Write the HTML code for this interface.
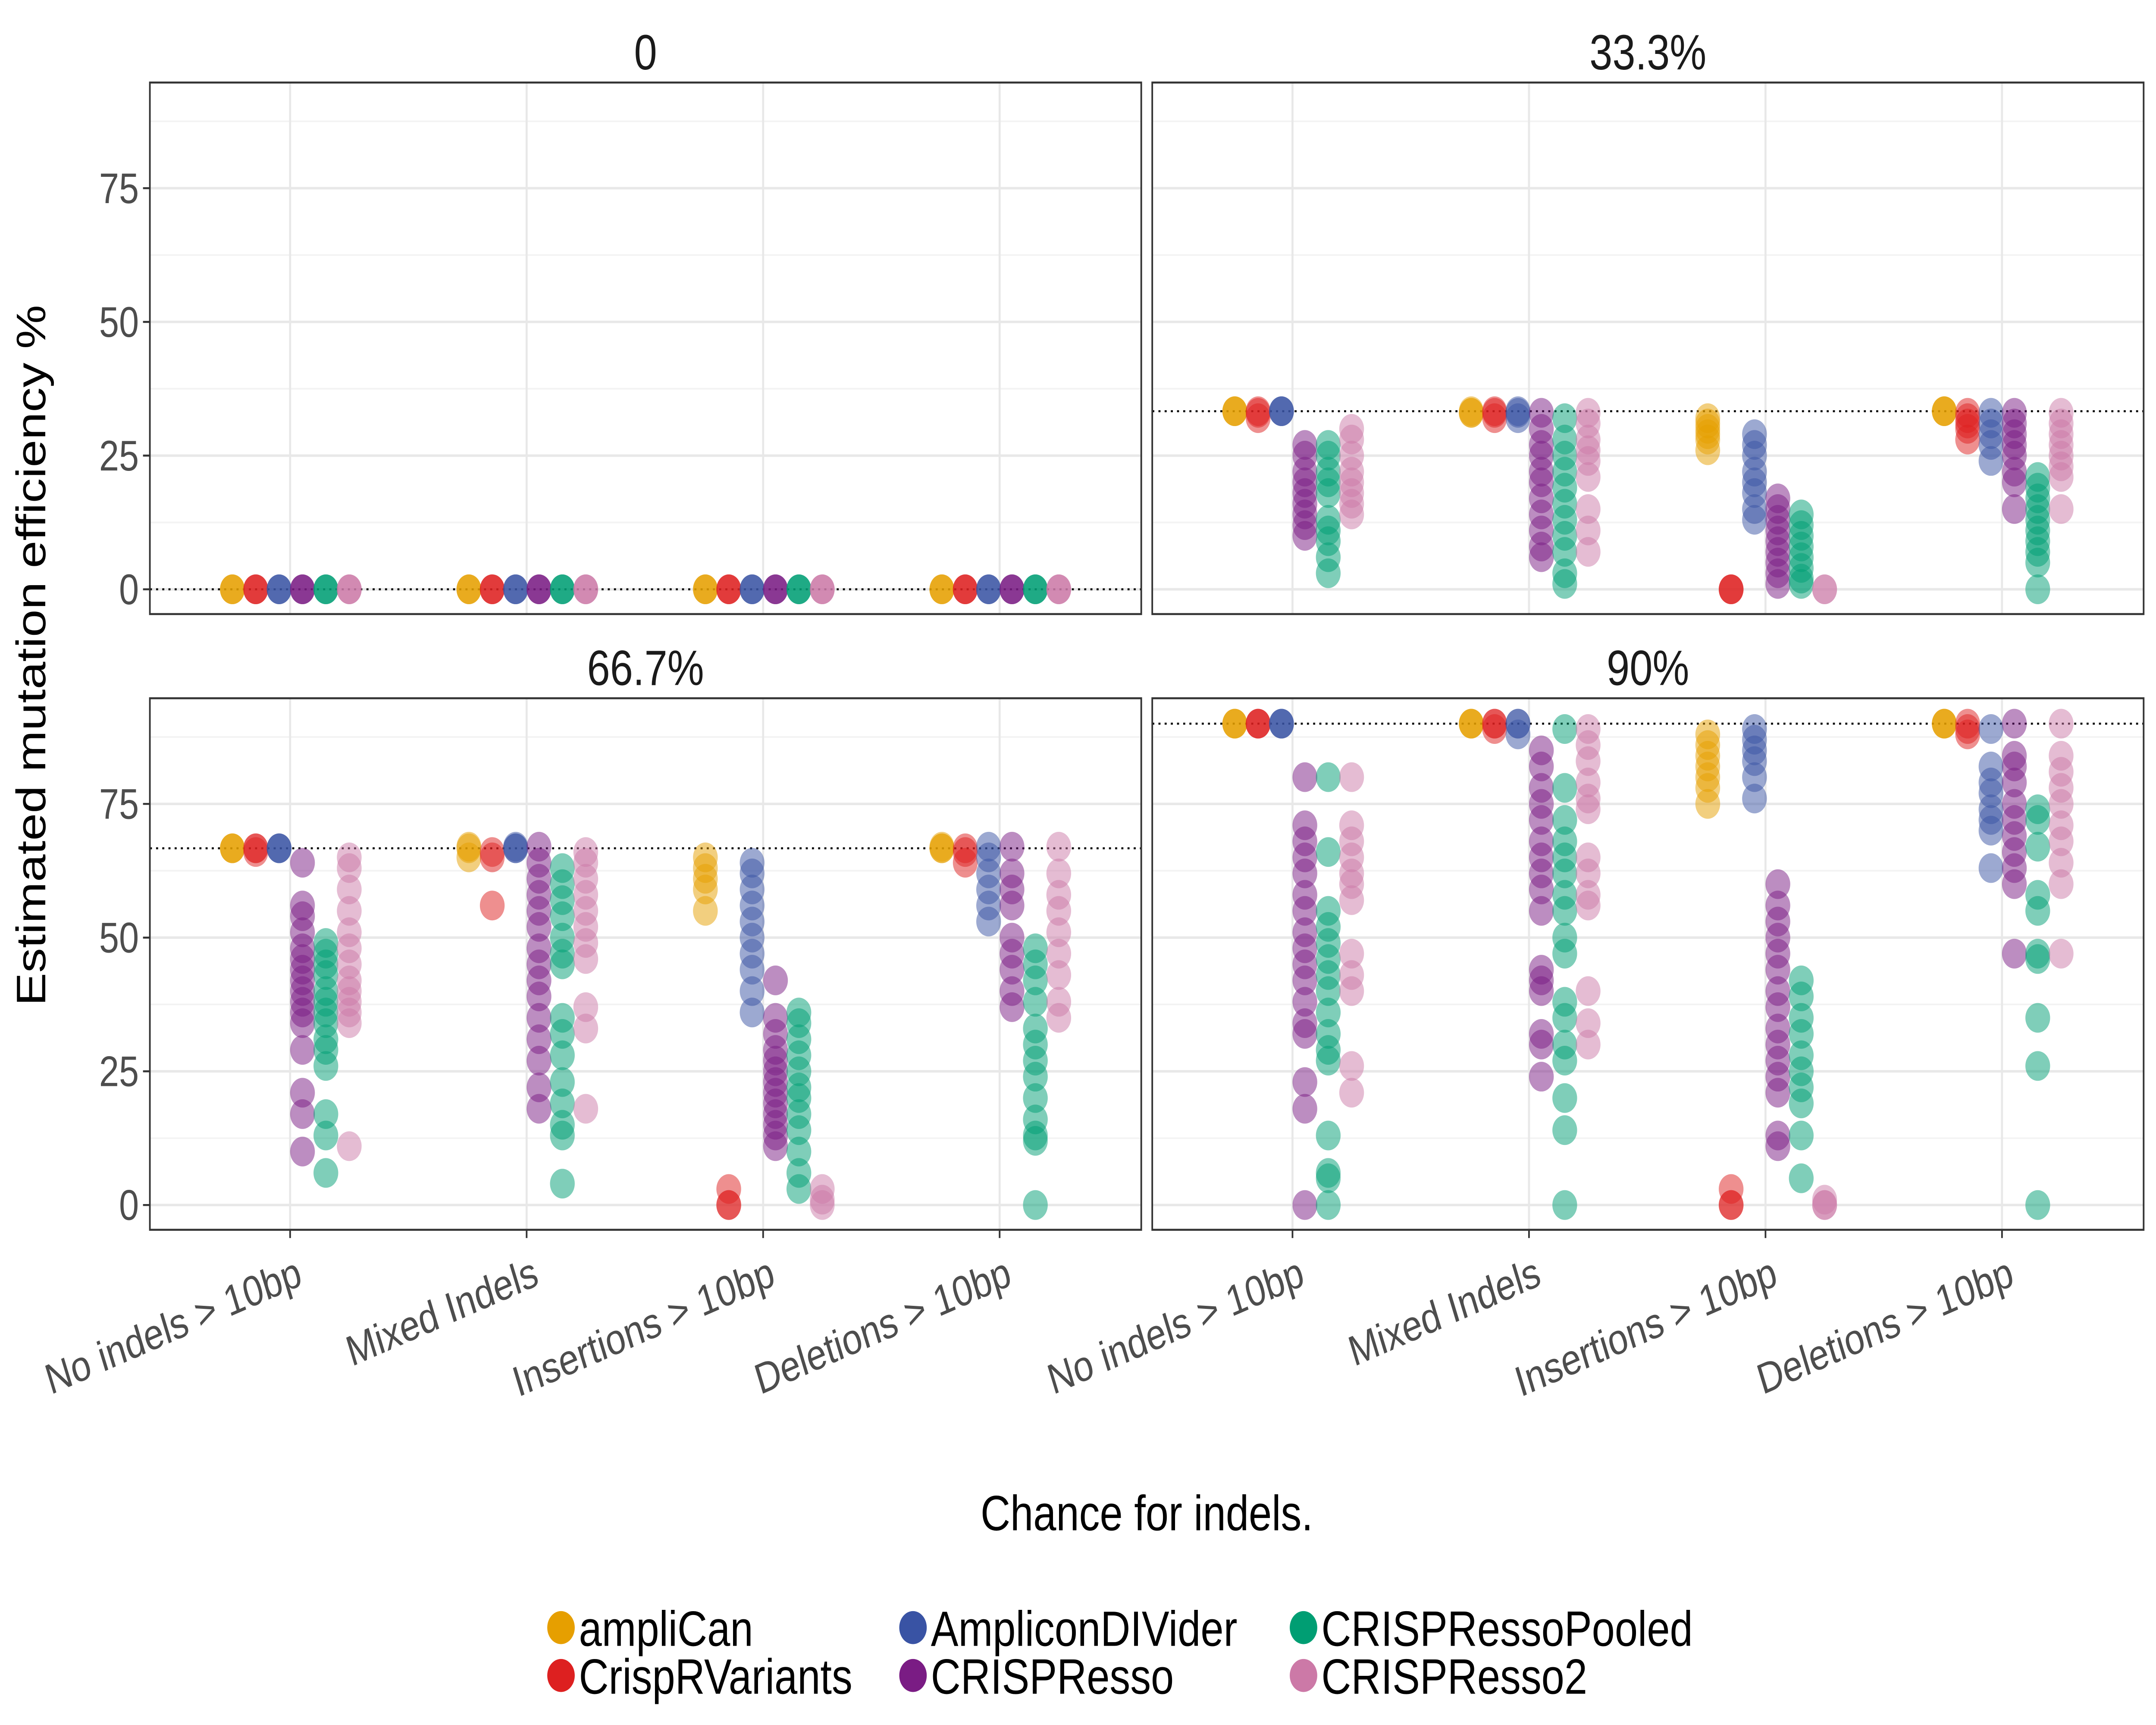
<!DOCTYPE html>
<html><head><meta charset="utf-8"><style>html,body{margin:0;padding:0;background:#fff;overflow:hidden;width:100%;height:100%}svg{display:block;width:100vw;height:100vh}</style></head>
<body>
<svg id="chart" viewBox="0 0 1568 1045" preserveAspectRatio="none" xmlns="http://www.w3.org/2000/svg" font-family="Liberation Sans, sans-serif"></svg>
<script>
const categories = ["No indels > 10bp","Mixed Indels","Insertions > 10bp","Deletions > 10bp"];
const methods = ["ampliCan","CrispRVariants","AmpliconDIVider","CRISPResso","CRISPRessoPooled","CRISPResso2"];
const colors = ["#E69F00","#DD2020","#3953A4","#7A1C84","#009E73","#CC79A7"];
const panelTitles = ["0","33.3%","66.7%","90%"];
const targets = [0,33.3,66.7,90];
const yTicks = [0,25,50,75];
const p0 = [
 [[0,0,0],[0,0,0],[0,0,0],[0,0,0],[0,0,0],[0,0,0]],
 [[0,0,0],[0,0,0],[0,0,0],[0,0,0],[0,0,0],[0,0,0]],
 [[0,0,0],[0,0,0],[0,0,0],[0,0,0],[0,0,0],[0,0,0]],
 [[0,0,0],[0,0,0],[0,0,0],[0,0,0],[0,0,0],[0,0,0]]];
const p33 = [
 [[33.3,33.3,33.3],[33,32,33.3],[33.3,33.3,33.3],[27,25,22,20,18,16,14,12,10],[27,25,22,20,18,13,11,9,6,3],[30,28,25,22,20,18,16,14]],
 [[33,33,33.3],[33,32,33.3],[33,32,33.3],[33,30,27,25,22,20,17,14,11,8,6],[32,28,25,22,19,16,13,10,7,3,1],[33,31,28,26,24,21,15,11,7]],
 [[32,31,30,29,28,26],[0,0,0],[29,27,25,22,20,18,15,13],[17,15,13,11,9,7,5,3,1],[14,12,10,8,6,4,2,1],[0,0]],
 [[33.3,33.3,33.3],[33,32,31,30,28],[33,31,29,27,24],[33,31,29,27,25,22,20,15],[21,19,17,15,13,11,9,7,5,0],[33,31,29,27,25,23,21,15]]];
const p67 = [
 [[66.7,66.7,66.7],[66,66.7,66.7],[66.7,66.7,66.7],[64,56,54,51,48,46,44,42,40,38,36,34,29,21,17,10],[49,47,45,43,40,38,36,34,31,29,26,17,13,6],[65,63,59,55,51,48,45,42,40,38,36,34,11]],
 [[67,65,66.7],[66,65,56],[67,66.7,66.7],[67,64,61,58,55,52,48,45,42,39,35,31,27,22,18],[63,60,57,54,50,47,45,35,32,28,23,19,15,13,4],[66,64,61,58,55,52,49,46,37,33,18]],
 [[65,63,61,59,55],[3,0,0],[64,62,59,56,53,50,47,44,40,36],[42,35,32,29,27,25,23,21,19,17,15,13,11],[36,34,31,28,25,22,20,17,14,10,6,3],[3,1,0]],
 [[67,66.7,66.7],[66,64,66.7],[67,65,62,59,56,53],[67,62,59,56,50,47,44,40,37],[48,45,42,38,33,30,27,24,20,16,13,12,0],[67,62,58,55,51,47,43,38,35]]];
const p90 = [
 [[90,90,90],[90,90,90],[90,90,90],[80,71,68,65,62,58,55,51,48,45,42,38,34,32,23,18,0],[80,66,55,52,49,46,43,40,36,32,29,27,13,6,5,0],[80,71,68,65,62,60,57,47,43,40,26,21]],
 [[90,90,90],[89,90,90],[90,88,90],[85,82,78,75,72,68,65,62,59,55,44,42,40,32,30,24],[89,78,72,68,65,62,58,55,50,47,38,35,30,27,20,14,0],[89,86,83,79,76,74,65,62,58,56,40,34,30]],
 [[88,86,84,82,80,78,75],[3,0,0],[89,87,85,83,80,76],[60,56,53,50,47,44,40,37,33,30,27,24,21,13,11],[42,39,35,32,28,25,22,19,13,5],[1,0,0]],
 [[90,90,90],[89,88,90],[89,82,79,77,74,72,70,63],[90,84,82,79,75,72,69,66,63,60,47],[74,72,67,58,55,47,46,35,26,0],[90,84,81,78,75,71,68,64,60,47]]];
const panelData = [p0,p33,p67,p90];

const NS="http://www.w3.org/2000/svg";
const svg=document.getElementById('chart');
function el(tag,attrs,parent){const e=document.createElementNS(NS,tag);for(const k in attrs)e.setAttribute(k,attrs[k]);(parent||svg).appendChild(e);return e;}
const panels=[{x:109,y:50},{x:838,y:50},{x:109,y:423},{x:838,y:423}];
const PW=721,PH=322;
const yPix0=307,yPer25=81;
function yScale(p,v){return p.y+yPix0-v/25*yPer25;}
function xScale(p,ci){return p.x+102+ci*172;}
const offsets=[-42,-25,-8,9,26,43];

panels.forEach((p,pi)=>{
  const g=el('g',{});
  
  
  el('rect',{x:p.x,y:p.y,width:PW,height:PH,fill:'#fff'},g);
  [12.5,37.5,62.5,87.5].forEach(v=>el('line',{x1:p.x,x2:p.x+PW,y1:yScale(p,v),y2:yScale(p,v),stroke:'#f3f3f3','stroke-width':1},g));
  yTicks.forEach(v=>el('line',{x1:p.x,x2:p.x+PW,y1:yScale(p,v),y2:yScale(p,v),stroke:'#e8e8e8','stroke-width':1.5},g));
  categories.forEach((c,ci)=>el('line',{x1:xScale(p,ci),x2:xScale(p,ci),y1:p.y,y2:p.y+PH,stroke:'#e8e8e8','stroke-width':1.5},g));
  const tl=el('line',{x1:p.x,x2:p.x+PW,y1:yScale(p,targets[pi]),y2:yScale(p,targets[pi]),stroke:'#000','stroke-width':1.2,'stroke-dasharray':'1.5,3'},g);
  
  
  const d=panelData[pi];
  d.forEach((cat,ci)=>cat.forEach((vals,mi)=>vals.forEach(v=>{
    const c=el('circle',{cx:xScale(p,ci)+offsets[mi],cy:yScale(p,v),r:9,fill:colors[mi],'fill-opacity':0.5},g);
    
    
  })));
  el('rect',{x:p.x,y:p.y,width:PW,height:PH,fill:'none',stroke:'#333','stroke-width':1.2},g);
  const t=el('text',{x:p.x+PW/2,y:p.y-8,'text-anchor':'middle','font-size':30,fill:'#1a1a1a'},g);
  t.textContent=panelTitles[pi];
  
  
  if(pi%2===0){
    yTicks.forEach(v=>{
      el('line',{x1:p.x-5,x2:p.x,y1:yScale(p,v),y2:yScale(p,v),stroke:'#333','stroke-width':1.2},g);
      const tt=el('text',{x:p.x-8,y:yScale(p,v)+9,'text-anchor':'end','font-size':26,fill:'#4d4d4d'},g);
      tt.textContent=v;
      
      
    });
  }
  if(pi>=2){
    categories.forEach((c,ci)=>{
      const x=xScale(p,ci);
      el('line',{x1:x,x2:x,y1:p.y+PH,y2:p.y+PH+5,stroke:'#333','stroke-width':1.2},g);
      const tt=el('text',{x:x+10,y:p.y+PH+33,'text-anchor':'end','font-size':26,fill:'#4d4d4d',transform:`rotate(-20 ${x+10} ${p.y+PH+33})`},g);
      tt.textContent=c;
      
      
    });
  }
});
const yt=el('text',{x:0,y:0,'text-anchor':'middle','font-size':30,fill:'#000',transform:'translate(33 397) rotate(-90)'});
yt.textContent='Estimated mutation efficiency %';


const xt=el('text',{x:834,y:927,'text-anchor':'middle','font-size':30,fill:'#000'});
xt.textContent='Chance for indels.';


const legX=[408,664,948],legY=[986,1015];
const legOrder=[0,2,4,1,3,5];
legOrder.forEach((mi,k)=>{
  const col=k%3,row=Math.floor(k/3);
  const lg=el('g',{});
  
  
  el('circle',{cx:legX[col],cy:legY[row],r:10,fill:colors[mi]},lg);
  const tx=el('text',{x:legX[col]+13,y:legY[row]+11,'font-size':30,fill:'#000'},lg);
  tx.textContent=methods[mi];
});
</script>
</body></html>
